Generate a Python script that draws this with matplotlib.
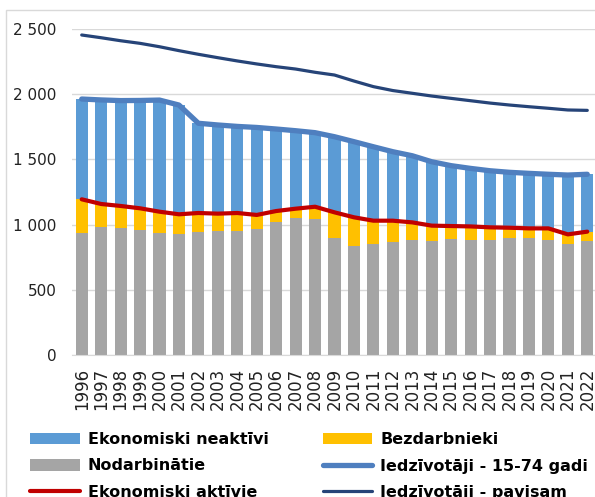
import matplotlib
matplotlib.use('Agg')
import matplotlib.pyplot as plt
from matplotlib.patches import Rectangle
from matplotlib.ticker import FuncFormatter
import numpy as np

#%% DATA (thousands)
years = [str(y) for y in range(1996, 2023)]
employed = [938, 984, 976, 959, 933, 925, 946, 953, 953, 964, 1022, 1048, 1045, 900,
            838, 851, 867, 884, 877, 890, 884, 884, 900, 900, 884, 854, 877]
unemployed = [256, 174, 167, 166, 166, 154, 143, 131, 136, 110, 82, 74, 92, 194,
              218, 179, 163, 133, 115, 99, 102, 95, 76, 71, 87, 71, 69]
inactive = [769, 798, 808, 827, 856, 838, 688, 680, 664, 671, 629, 598, 568, 580,
            580, 567, 529, 511, 490, 463, 445, 434, 425, 422, 415, 455, 440]
active = [1194, 1158, 1143, 1125, 1099, 1079, 1089, 1084, 1089, 1074, 1104, 1122, 1137, 1094,
          1056, 1030, 1030, 1017, 992, 989, 986, 979, 976, 971, 971, 925, 946]
pop_15_74 = [1963, 1956, 1951, 1952, 1955, 1917, 1777, 1764, 1753, 1745, 1733, 1720, 1705, 1674,
             1636, 1597, 1559, 1528, 1482, 1452, 1431, 1413, 1401, 1393, 1386, 1380, 1386]
pop_total = [2454, 2433, 2410, 2390, 2364, 2334, 2306, 2280, 2255, 2232, 2211, 2193, 2168, 2147,
             2101, 2058, 2028, 2007, 1986, 1968, 1950, 1932, 1917, 1904, 1892, 1879, 1876]

#%% FIGURE
W, H = 595, 497
fig = plt.figure(figsize=(W/100, H/100), dpi=100)
# chart border (cropped on right / bottom)
fig.patches.append(Rectangle((6/W, 1-600/H), 700/W, 590/H, transform=fig.transFigure,
                             fill=False, edgecolor='#d9d9d9', linewidth=1))

ax = fig.add_axes([72/W, 1-355/H, 525/W, 326/H])
x = np.arange(len(years))
bw = 0.62
b1 = ax.bar(x, employed, bw, color='#a5a5a5', label='Nodarbinātie')
b2 = ax.bar(x, unemployed, bw, bottom=employed, color='#ffc000', label='Bezdarbnieki')
bot2 = np.array(employed) + np.array(unemployed)
b3 = ax.bar(x, inactive, bw, bottom=bot2, color='#5b9bd5', label='Ekonomiski neaktīvi')
l1, = ax.plot(x, active, color='#c00000', lw=3, solid_capstyle='round', label='Ekonomiski aktīvie')
l2, = ax.plot(x, pop_15_74, color='#4f7fbf', lw=3.8, solid_capstyle='round',
              label='Iedzīvotāji - 15-74 gadi')
l3, = ax.plot(x, pop_total, color='#264478', lw=2.3, solid_capstyle='round',
              label='Iedzīvotāji - pavisam')

ax.set_xlim(-0.5, len(years)-0.5)
ax.set_ylim(0, 2500)
ax.set_yticks(range(0, 2501, 500))
ax.yaxis.set_major_formatter(FuncFormatter(lambda v, p: '{:,}'.format(int(v)).replace(',', ' ')))
ax.set_xticks(x)
ax.set_xticklabels(years, rotation=90, va='top', ha='center')
ax.grid(axis='y', color='#d9d9d9', lw=1)
ax.set_axisbelow(True)
for s in ['top', 'right', 'left']:
    ax.spines[s].set_visible(False)
ax.spines['bottom'].set_color('#d9d9d9')
ax.tick_params(axis='y', length=0, pad=11, labelsize=11, labelcolor='#222222')
ax.tick_params(axis='x', length=0, pad=9, labelsize=12, labelcolor='#222222')

#%% LEGEND
handles = [b3, b1, l1, b2, l2, l3]
labels = [h.get_label() for h in handles]
fig.legend(handles, labels, ncol=2, loc='upper left', bbox_to_anchor=(30/W, 1-432/H),
           frameon=False, prop={'weight': 'bold', 'size': 11.5}, handlelength=3.1,
           handletextpad=0.5, columnspacing=3.4, labelspacing=0.72, borderaxespad=0,
           borderpad=0)

fig.savefig('out.png', dpi=100)
